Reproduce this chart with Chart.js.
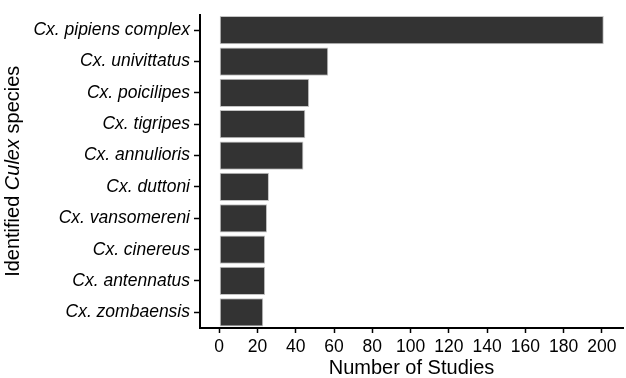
<!DOCTYPE html>
<html>
<head>
<meta charset="utf-8">
<script src="https://cdn.jsdelivr.net/npm/chart.js@4"></script>
<style>
  html, body { margin: 0; padding: 0; background: #fff; }
  #wrap { width: 626px; height: 378px; }
</style>
</head>
<body>
<div id="wrap"><canvas id="culex" width="626" height="378"></canvas></div>
<script>
const species = [
  'Cx. pipiens complex', 'Cx. univittatus', 'Cx. poicilipes', 'Cx. tigripes',
  'Cx. annulioris', 'Cx. duttoni', 'Cx. vansomereni', 'Cx. cinereus',
  'Cx. antennatus', 'Cx. zombaensis'
];
const studies = [201, 57, 47, 45, 44, 26, 25, 24, 24, 23];
const xTicks = [0, 20, 40, 60, 80, 100, 120, 140, 160, 180, 200];
const xTitle = 'Number of Studies';
const yTitleParts = [['Identified ', false], ['Culex', true], [' species', false]];

const FONT = "'Liberation Sans', Arial, sans-serif";

// y title has an italic word in it, chart.js titles can't mix styles
const yTitlePlugin = {
  id: 'yTitle',
  afterDraw(chart) {
    const ctx = chart.ctx;
    const area = chart.chartArea;
    ctx.save();
    ctx.translate(13, (area.top + area.bottom) / 2);
    ctx.rotate(-Math.PI / 2);
    ctx.fillStyle = '#000';
    ctx.textBaseline = 'middle';
    let total = 0;
    const widths = yTitleParts.map(([t, it]) => {
      ctx.font = (it ? 'italic ' : '') + '20px ' + FONT;
      const w = ctx.measureText(t).width;
      total += w;
      return w;
    });
    let x = -total / 2;
    yTitleParts.forEach(([t, it], i) => {
      ctx.font = (it ? 'italic ' : '') + '20px ' + FONT;
      ctx.fillText(t, x, 0);
      x += widths[i];
    });
    ctx.restore();
  }
};

new Chart(document.getElementById('culex').getContext('2d'), {
  type: 'bar',
  data: {
    labels: species,
    datasets: [{
      data: studies,
      backgroundColor: '#333333',
      borderColor: '#c4c4c4',
      borderWidth: 1,
      borderSkipped: false,
      barPercentage: 0.9,
      categoryPercentage: 1.0
    }]
  },
  options: {
    indexAxis: 'y',
    responsive: false,
    animation: false,
    layout: { padding: { top: 3, right: 3, left: 0, bottom: 0 } },
    plugins: {
      legend: { display: false },
      tooltip: { enabled: false }
    },
    scales: {
      x: {
        type: 'linear',
        min: -10.05,
        max: 211.05,
        afterFit(scale) { scale.height = 50; },
        afterBuildTicks(scale) {
          scale.ticks = xTicks.map(v => ({ value: v }));
        },
        grid: {
          drawOnChartArea: false,
          tickLength: 5,
          tickColor: '#000',
          tickWidth: 1.5
        },
        border: { color: '#000', width: 2 },
        ticks: {
          color: '#000',
          padding: 4,
          maxRotation: 0,
          autoSkip: false,
          font: { family: FONT, size: 17.5 }
        },
        title: {
          display: true,
          text: xTitle,
          color: '#000',
          padding: { top: 0, bottom: 0 },
          font: { family: FONT, size: 20, lineHeight: 1 }
        }
      },
      y: {
        type: 'category',
        offset: true,
        afterFit(scale) { scale.width = 200; },
        grid: {
          offset: false,
          drawOnChartArea: false,
          tickLength: 6,
          tickColor: '#000',
          tickWidth: 1.5
        },
        border: { color: '#000', width: 2 },
        ticks: {
          color: '#000',
          padding: 4,
          autoSkip: false,
          font: { family: FONT, size: 17.5, style: 'italic' }
        }
      }
    }
  },
  plugins: [yTitlePlugin]
});
</script>
</body>
</html>
